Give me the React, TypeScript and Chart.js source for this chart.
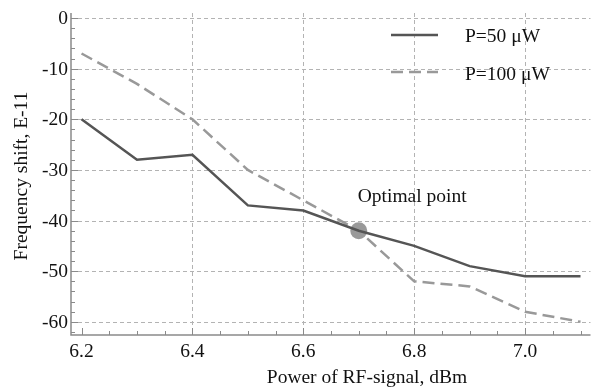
import React, { useEffect, useRef } from "react";
import { Chart, registerables } from "chart.js";

Chart.register(...registerables);

const powerDbm = [6.2, 6.3, 6.4, 6.5, 6.6, 6.7, 6.8, 6.9, 7.0, 7.1];
const shiftP50 = [-20, -28, -27, -37, -38, -42, -45, -49, -51, -51];
const shiftP100 = [-7, -13, -20, -30, -36, -42, -52, -53, -58, -60];
const optimalPoint = { x: 6.7, y: -42 };

const yMajorTicks = [0, -10, -20, -30, -40, -50, -60];
const yTickLabels = ["0", "-10", "-20", "-30", "-40", "-50", "-60"];
const xMajorTicks = [6.2, 6.4, 6.6, 6.8, 7.0];
const xTickLabels = ["6.2", "6.4", "6.6", "6.8", "7.0"];
const xGridTicks = [6.4, 6.6, 6.8, 7.0];

const seriesNames = ["P=50 \u03bcW", "P=100 \u03bcW"];
const xTitle = "Power of RF-signal, dBm";
const yTitle = "Frequency shift, E-11";
const annotationText = "Optimal point";

const FONT = "19.5px 'Liberation Serif', 'Times New Roman', serif";
const GRID = "#b3b3b3";
const AXIS = "#8a8a8a";
const DARK = "#555555";
const LIGHT = "#999999";

const decorPlugin = {
  id: "decor",
  beforeDatasetsDraw(chart: any) {
    const ctx = chart.ctx;
    const xs = chart.scales.x;
    const ys = chart.scales.y;
    const { left, right, top, bottom } = chart.chartArea;
    ctx.save();
    // grid
    ctx.strokeStyle = GRID;
    ctx.lineWidth = 1;
    ctx.setLineDash([4, 3]);
    yMajorTicks.forEach((v) => {
      const y = Math.round(ys.getPixelForValue(v)) + 0.5;
      ctx.beginPath();
      ctx.moveTo(left, y);
      ctx.lineTo(right, y);
      ctx.stroke();
    });
    xGridTicks.forEach((v) => {
      const x = Math.round(xs.getPixelForValue(v)) + 0.5;
      ctx.beginPath();
      ctx.moveTo(x, top);
      ctx.lineTo(x, bottom);
      ctx.stroke();
    });
    ctx.setLineDash([]);
    // axes
    ctx.strokeStyle = AXIS;
    ctx.lineWidth = 1.5;
    ctx.beginPath();
    ctx.moveTo(left, top);
    ctx.lineTo(left, bottom);
    ctx.lineTo(right, bottom);
    ctx.stroke();
    // minor / major ticks
    ctx.lineWidth = 1;
    for (let v = -62; v <= 0; v += 2) {
      const y = Math.round(ys.getPixelForValue(v)) + 0.5;
      const len = v % 10 === 0 ? 7 : 4;
      ctx.beginPath();
      ctx.moveTo(left, y);
      ctx.lineTo(left + len, y);
      ctx.stroke();
    }
    for (let i = 0; i <= 18; i++) {
      const v = 6.2 + i * 0.05;
      const x = Math.round(xs.getPixelForValue(v)) + 0.5;
      const len = i % 4 === 0 ? 7 : 4;
      ctx.beginPath();
      ctx.moveTo(x, bottom);
      ctx.lineTo(x, bottom - len);
      ctx.stroke();
    }
    // tick labels
    ctx.fillStyle = "#111";
    ctx.font = FONT;
    ctx.textAlign = "right";
    ctx.textBaseline = "middle";
    yMajorTicks.forEach((v, i) => {
      ctx.fillText(yTickLabels[i], left - 3, ys.getPixelForValue(v) + 1);
    });
    ctx.textAlign = "center";
    ctx.textBaseline = "top";
    xMajorTicks.forEach((v, i) => {
      ctx.fillText(xTickLabels[i], xs.getPixelForValue(v), bottom + 7);
    });
    // axis titles
    ctx.textBaseline = "middle";
    ctx.fillText(xTitle, 367, 378);
    ctx.save();
    ctx.translate(22, (top + bottom) / 2 + 2);
    ctx.rotate(-Math.PI / 2);
    ctx.fillText(yTitle, 0, 0);
    ctx.restore();
    // legend
    ctx.lineWidth = 2.5;
    ctx.strokeStyle = DARK;
    ctx.beginPath();
    ctx.moveTo(391, 35);
    ctx.lineTo(438, 35);
    ctx.stroke();
    ctx.strokeStyle = LIGHT;
    ctx.setLineDash([12, 6]);
    ctx.beginPath();
    ctx.moveTo(391, 72);
    ctx.lineTo(438, 72);
    ctx.stroke();
    ctx.setLineDash([]);
    ctx.textAlign = "left";
    ctx.fillStyle = "#111";
    ctx.fillText(seriesNames[0], 465, 37);
    ctx.fillText(seriesNames[1], 465, 75);
    ctx.restore();
  },
  afterDatasetsDraw(chart: any) {
    const ctx = chart.ctx;
    const xs = chart.scales.x;
    const ys = chart.scales.y;
    ctx.save();
    ctx.font = FONT;
    ctx.fillStyle = "#111";
    ctx.textAlign = "left";
    ctx.textBaseline = "middle";
    ctx.fillText(
      annotationText,
      xs.getPixelForValue(optimalPoint.x) - 1,
      ys.getPixelForValue(optimalPoint.y) - 34
    );
    ctx.restore();
  },
};

export default function App() {
  const ref = useRef<HTMLCanvasElement | null>(null);
  useEffect(() => {
    if (!ref.current) return;
    const chart = new Chart(ref.current, {
      type: "line",
      data: {
        datasets: [
          {
            label: seriesNames[0],
            data: powerDbm.map((x, i) => ({ x, y: shiftP50[i] })),
            borderColor: DARK,
            borderWidth: 2.5,
            pointRadius: 0,
            tension: 0,
          },
          {
            label: seriesNames[1],
            data: powerDbm.map((x, i) => ({ x, y: shiftP100[i] })),
            borderColor: LIGHT,
            borderWidth: 2.5,
            borderDash: [12, 6],
            pointRadius: 0,
            tension: 0,
          },
          {
            label: annotationText,
            data: [optimalPoint],
            showLine: false,
            pointRadius: 8.5,
            pointBackgroundColor: LIGHT,
            pointBorderWidth: 0,
            borderColor: LIGHT,
          },
        ],
      },
      options: {
        responsive: false,
        animation: false,
        layout: { padding: { left: 71, right: 1, top: 13, bottom: 54 } },
        plugins: { legend: { display: false }, tooltip: { enabled: false } },
        scales: {
          x: { type: "linear", min: 6.181, max: 7.118, display: false },
          y: { type: "linear", min: -62.6, max: 1, display: false },
        },
      },
      plugins: [decorPlugin],
    });
    return () => chart.destroy();
  }, []);
  return (
    <div style={{ position: "fixed", left: 0, top: 0, width: 599, height: 389, background: "#fff" }}>
      <canvas ref={ref} width={599} height={389} />
    </div>
  );
}
